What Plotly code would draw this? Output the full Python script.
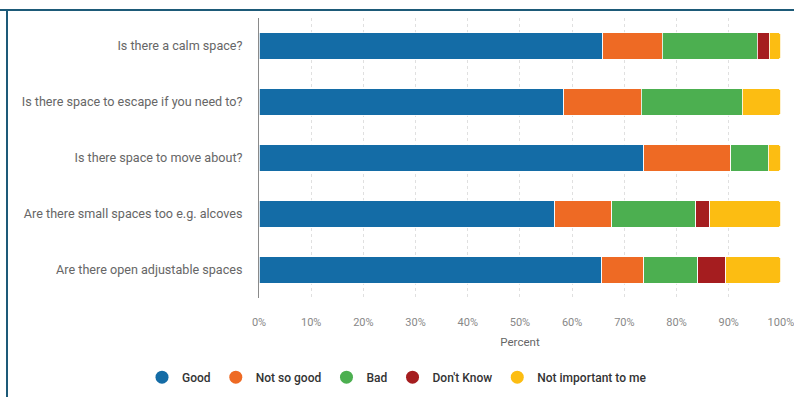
import plotly.graph_objects as go

# Survey questions (top to bottom)
questions = [
    "Is there a calm space?",
    "Is there space to escape if you need to?",
    "Is there space to move about?",
    "Are there small spaces too e.g. alcoves",
    "Are there open adjustable spaces",
]

# Response shares in percent, one list per answer option
good = [65.9, 58.4, 73.7, 56.7, 65.7]
not_so_good = [11.4, 14.8, 16.7, 10.9, 8.0]
bad = [18.2, 19.4, 7.2, 16.1, 10.4]
dont_know = [2.3, 0.0, 0.0, 2.7, 5.3]
not_important = [2.2, 7.4, 2.4, 13.6, 10.6]

series = [
    ("Good", good, "#146ca6"),
    ("Not so good", not_so_good, "#ee6a24"),
    ("Bad", bad, "#4caf50"),
    ("Don't Know", dont_know, "#a51d1f"),
    ("Not important to me", not_important, "#fcbd12"),
]

x_ticks = list(range(0, 101, 10))
x_tick_text = [f"{v}%" for v in x_ticks]

fig = go.Figure()
for name, vals, color in series:
    fig.add_trace(go.Bar(
        y=questions, x=vals, orientation="h", name=name,
        marker=dict(color=color, line=dict(color="rgba(255,255,255,0.8)", width=1)),
        showlegend=False, legendgroup=name,
    ))
# Round legend markers
for name, vals, color in series:
    fig.add_trace(go.Scatter(
        x=[None], y=[None], mode="markers", name=name, legendgroup=name,
        marker=dict(color=color, size=13, symbol="circle"),
    ))

fig.update_layout(
    width=794, height=397,
    margin=dict(l=259, r=13, t=18, b=99, autoexpand=False),
    barmode="stack", bargap=0.52, barcornerradius=3,
    paper_bgcolor="white", plot_bgcolor="white",
    font=dict(family="Roboto, Arial, sans-serif", size=11, color="#666"),
    xaxis=dict(
        range=[0, 100.02], tickmode="array", tickvals=x_ticks, ticktext=x_tick_text,
        showgrid=True, gridcolor="#e0e0e0", griddash="dot", gridwidth=1,
        zeroline=False, showline=False, automargin=False,
        ticklabeloverflow="allow",
        ticks="outside", ticklen=14, tickcolor="rgba(0,0,0,0)",
        tickfont=dict(size=11, color="#888"),
        title=dict(text="Percent", font=dict(size=11.5, color="#666"), standoff=9),
        fixedrange=True,
    ),
    yaxis=dict(
        autorange="reversed", showgrid=False, zeroline=False, automargin=False,
        showline=True, linecolor="#8a8a8a", linewidth=1,
        ticks="outside", ticklen=13, tickcolor="rgba(0,0,0,0)",
        tickfont=dict(size=12.6, color="#666"),
    ),
    legend=dict(
        orientation="h", xref="container", yref="container",
        x=0.5, xanchor="center", y=0.05, yanchor="middle",
        font=dict(size=12, color="#333", family="Roboto, Arial, sans-serif", weight=500),
        itemsizing="trace", traceorder="normal",
    ),
)

# Frame lines along the top and left of the figure
frame = "#1d5a78"
fig.add_shape(type="line", xref="paper", yref="paper",
              x0=-259/522, x1=794/522 - 259/522, y0=1 + 8/280, y1=1 + 8/280,
              line=dict(color=frame, width=2))
fig.add_shape(type="line", xref="paper", yref="paper",
              x0=-252/522, x1=-252/522, y0=1 + 8/280, y1=-99/280,
              line=dict(color=frame, width=2))

fig.write_html("out.html")
